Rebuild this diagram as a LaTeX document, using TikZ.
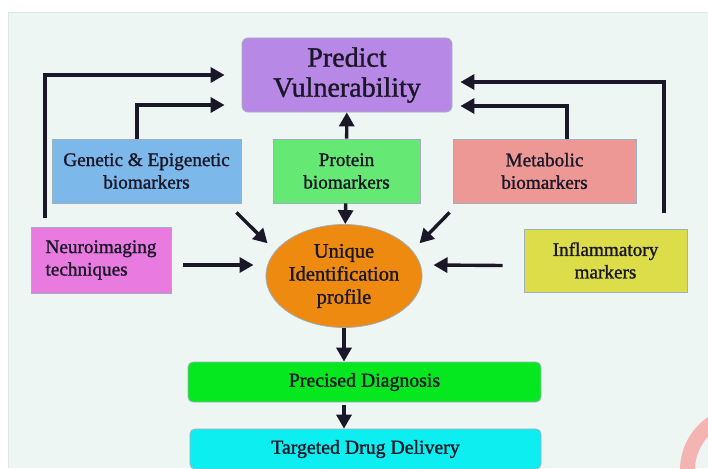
\documentclass[tikz,border=0pt]{standalone}
\usepackage{fontspec}
\setmainfont{Liberation Serif}[FakeBold=1.3]
\usetikzlibrary{shapes.geometric,arrows.meta,positioning}

\definecolor{panel}{HTML}{EEF6F4}
\definecolor{panelline}{HTML}{DCE6E3}
\definecolor{ink}{HTML}{1A1828}
\definecolor{edge}{HTML}{9DB0BE}
\definecolor{purp}{HTML}{B888E6}
\definecolor{skyb}{HTML}{7DB8EB}
\definecolor{grn}{HTML}{66E874}
\definecolor{rose}{HTML}{EE9895}
\definecolor{magn}{HTML}{E87AE0}
\definecolor{yel}{HTML}{DDDD4A}
\definecolor{orng}{HTML}{EE8A10}
\definecolor{lime}{HTML}{05E81F}
\definecolor{aqua}{HTML}{0CEEF0}
\definecolor{stamp}{HTML}{F4B4B2}

\begin{document}
\begin{tikzpicture}[x=1pt,y=-1pt,
  box/.style={rectangle,draw=edge,line width=0.8pt,inner sep=0pt,align=center,text=ink,font=\fontsize{19.2}{22.5}\selectfont},
  bar/.style={box,rounded corners=5pt,minimum height=40pt,font=\fontsize{19.8}{22.5}\selectfont},
  arr/.style={-{Triangle[length=14pt,width=15pt]},line width=3.4pt,draw=ink}]

\useasboundingbox[fill=white] (0,0) rectangle (708,468);
\fill[panel] (8,12) rectangle (708,468);
\draw[panelline] (8,468) -- (8,12) -- (708,12);

% stamp in the corner
\begin{scope}
\clip (0,0) rectangle (708,468);
\draw[stamp,line width=15pt] (687.5,470) arc[start angle=180,end angle=280,radius=56.5];
\end{scope}

% boxes
\node[box,fill=purp,rounded corners=6pt,minimum width=210pt,minimum height=74pt,font=\fontsize{28}{30}\selectfont] (pred) at (347,75) {Predict\\Vulnerability};

\node[box,fill=skyb,minimum width=189pt,minimum height=64pt] (gen) at (146.5,171) {Genetic \& Epigenetic\\biomarkers};
\node[box,fill=grn,minimum width=147pt,minimum height=64pt] (prot) at (346.5,171) {Protein\\biomarkers};
\node[box,fill=rose,minimum width=183pt,minimum height=64pt] (meta) at (544.5,171) {Metabolic\\biomarkers};

\node[box,fill=magn,align=left,minimum width=140pt,minimum height=66pt] (neuro) at (101,260) {Neuroimaging\\techniques};
\node[box,fill=yel,minimum width=163pt,minimum height=63pt] (infl) at (605.5,260.5) {Inflammatory\\markers};

\node[ellipse,draw=edge,line width=0.8pt,fill=orng,inner sep=0pt,minimum width=148pt,minimum height=103pt,align=center,text=ink,font=\fontsize{20.5}{23}\selectfont] (uip) at (344,276) {Unique\\Identification\\profile};

\node[bar,fill=lime,minimum width=353pt] (diag) at (364.5,382) {Precised Diagnosis};
\node[bar,fill=aqua,minimum width=351pt] (drug) at (365.5,449) {Targeted Drug Delivery};

% into the profile
\draw[arr] (prot) -- (pred);
\draw[arr] (prot) -- (uip);
\draw[arr] ([shift={(-5,9)}]gen.south east) -- ([shift={(-21,4)}]uip.north west);
\draw[arr] ([shift={(-3,9)}]meta.south west) -- ([shift={(20,4)}]uip.north east);
\draw[arr] ([shift={(12,5)}]neuro.east) -- ([shift={(-12,-11)}]uip.west);
\draw[arr] ([shift={(-21,5)}]infl.west) -- ([shift={(11,-11)}]uip.east);

% down to delivery
\draw[arr] (uip.south) -- (uip.south |- diag.north);
\draw[arr,shorten <=3pt] (uip.south |- diag.south) -- (uip.south |- drug.north);

% back up to the prediction
\draw[arr] ([shift={(-56,-9)}]neuro.north) |- ([shift={(-17,0)}]pred.west);
\draw[arr] ([shift={(-9.5,0)}]gen.north) |- ([shift={(-17,30)}]pred.west);
\draw[arr] ([shift={(22.5,0)}]meta.north) |- ([shift={(8,31)}]pred.east);
\draw[arr] ([shift={(58.5,-16)}]infl.north) |- ([shift={(8,7)}]pred.east);
\end{tikzpicture}
\end{document}
